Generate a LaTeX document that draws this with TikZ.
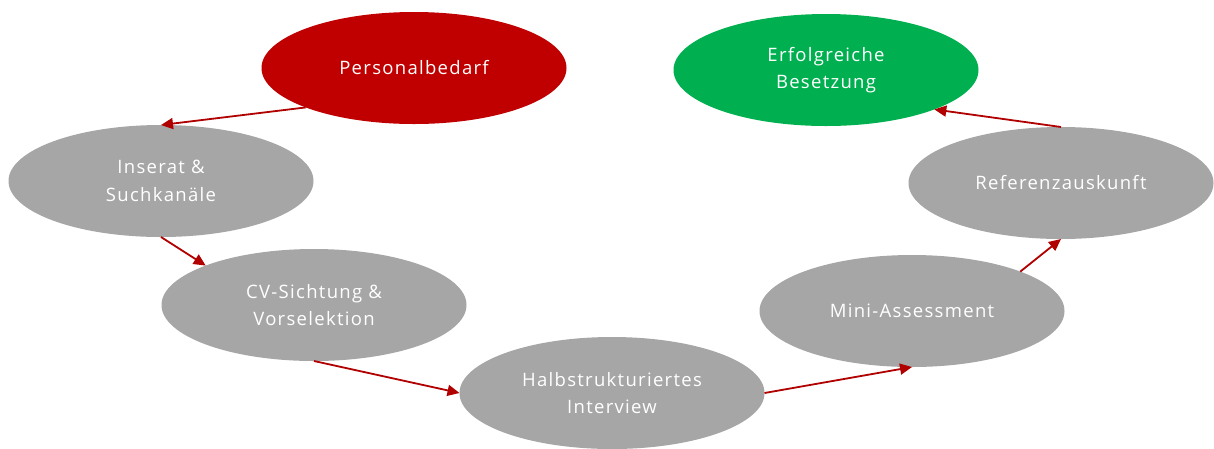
\documentclass[tikz,border=0pt]{standalone}
\usepackage{fontspec}
\setmainfont{Open Sans}[LetterSpace=7]
\usetikzlibrary{arrows.meta,shapes.geometric}
\definecolor{pred}{HTML}{C00000}
\definecolor{pgreen}{HTML}{00B050}
\definecolor{pgray}{HTML}{A6A6A6}
\definecolor{arr}{HTML}{B00000}
\tikzset{
  stage/.style={ellipse, fill=pgray, draw=none, minimum width=305pt, minimum height=112pt,
    inner sep=0pt, outer sep=0pt, text=white, align=center,
    font=\fontsize{18.5}{27.5}\selectfont},
  flow/.style={draw=arr, line width=1.8pt, -{Triangle[length=12pt,width=11pt]}}
}
\begin{document}
\begin{tikzpicture}[x=1pt,y=-1pt]
\useasboundingbox (0,0) rectangle (1214,448);
\node[stage, fill=pred] (pb) at (414,68) {Personalbedarf};
\node[stage, fill=pgreen] (eb) at (826,70) {Erfolgreiche\\Besetzung};
\node[stage] (ins) at (161,181) {Inserat \&\\Suchkanäle};
\node[stage] (cv) at (314,305) {CV-Sichtung \&\\Vorselektion};
\node[stage] (hs) at (612,393) {Halbstrukturiertes\\Interview};
\node[stage] (ma) at (912,311) {Mini-Assessment};
\node[stage] (rf) at (1061,183) {Referenzauskunft};
\draw[flow] (pb.200) -- (ins.90);
\draw[flow] (ins.270) -- (cv.160);
\draw[flow] (cv.270) -- (hs.180);
\draw[flow] (hs.0) -- (ma.270);
\draw[flow] (ma.20) -- (rf.270);
\draw[flow] (rf.90) -- (eb.340);
\end{tikzpicture}
\end{document}
